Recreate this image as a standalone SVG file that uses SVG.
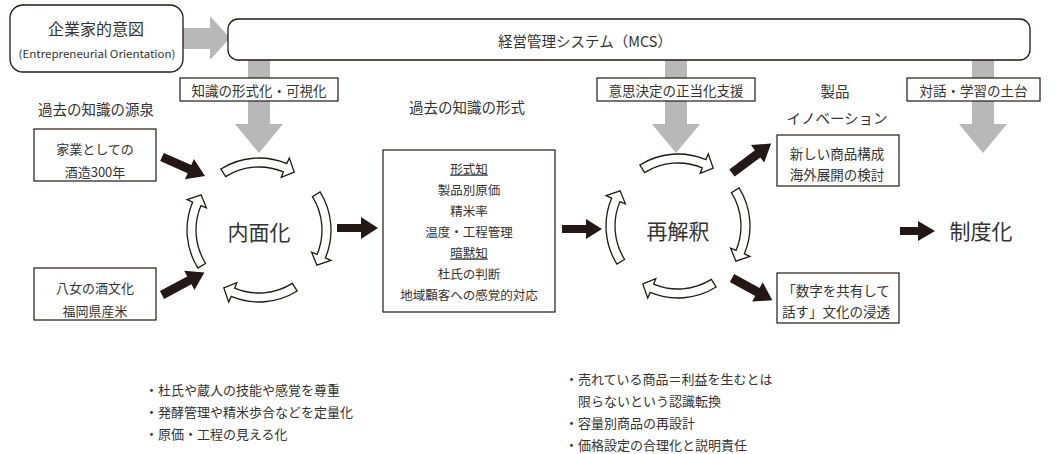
<svg xmlns="http://www.w3.org/2000/svg" xmlns:xlink="http://www.w3.org/1999/xlink" width="1057" height="454" viewBox="0 0 1057 454">
<style>
text{font-family:"Noto Sans CJK JP","Noto Sans",sans-serif;fill:#333;dominant-baseline:central;text-anchor:middle}
.box{fill:#fff;stroke:#231815;stroke-width:1.2}
.rbox{fill:#fff;stroke:#231815;stroke-width:1.3}
.gray{fill:#b8b8b8}
.blk{fill:#231815}
.hollow{fill:#fff;stroke:#231815;stroke-width:1.3;stroke-linejoin:miter}
.lbl{font-size:13.5px}
.head{font-size:14.5px}
.in{font-size:13px}
.mid{font-size:12.5px}
.big{font-size:21px}
.bul{font-size:13px;text-anchor:start}
</style>
<defs>
<path id="curv" d="M -38.15,-61.06 A 72 72 0 0 1 27.8,-66.4 L 30.3,-71.9 L 35.2,-57.9 L 22.2,-52.6 L 24.3,-58.1 A 63 63 0 0 0 -33.38,-53.42 Z"/>
</defs>
<rect width="1057" height="454" fill="#fff"/>

<g id="connectors">
  <path class="gray" d="M182,28 H210 V16 L230,38 L210,60 V49 H182 Z"/>
  <path class="gray" d="M248,59 H270 V124 H283 L259,153 L235,124 H248 Z"/>
  <path class="gray" d="M665,59 H687 V124 H700 L676,153 L652,124 H665 Z"/>
  <path class="gray" d="M972,59 H994 V124 H1007 L983,153 L959,124 H972 Z"/>
  <path class="blk" transform="translate(162,157) rotate(23.8)" d="M0,-4.5 H30 V-11 L47,0 L30,11 V4.5 H0 Z"/>
  <path class="blk" transform="translate(162,295) rotate(-28.1)" d="M0,-4.5 H31 V-11 L48,0 L31,11 V4.5 H0 Z"/>
  <path class="blk" d="M337,224 H361 V217 L378,228 L361,239 V232 H337 Z"/>
  <path class="blk" d="M562,225 H586 V219 L602,229 L586,239 V233 H562 Z"/>
  <path class="blk" transform="translate(732,173) rotate(-36.9)" d="M0,-4.5 H32 V-11 L49,0 L32,11 V4.5 H0 Z"/>
  <path class="blk" transform="translate(732,278) rotate(28.8)" d="M0,-4.5 H29 V-11 L46,0 L29,11 V4.5 H0 Z"/>
  <path class="blk" d="M900,227 H918 V221 L935,231 L918,241 V235 H900 Z"/>
</g>

<g id="eo">
  <rect class="rbox" x="10" y="5" width="173" height="67" rx="13"/>
  <text x="96" y="28" style="font-size:16px">企業家的意図</text>
  <text x="97" y="53" style="font-size:10.5px" textLength="157" lengthAdjust="spacingAndGlyphs">(Entrepreneurial Orientation)</text>
</g>

<g id="mcs">
  <rect class="rbox" x="228" y="19" width="802" height="41" rx="10"/>
  <text x="585" y="40" style="font-size:14.5px">経営管理システム（MCS）</text>
</g>

<g id="label-formalize">
  <rect class="box" x="180" y="78" width="158" height="23"/>
  <text class="lbl" x="259" y="89.5">知識の形式化・可視化</text>
</g>
<g id="label-justify">
  <rect class="box" x="597" y="78" width="158" height="23"/>
  <text class="lbl" x="676" y="89.5">意思決定の正当化支援</text>
</g>
<g id="label-dialog">
  <rect class="box" x="907" y="78" width="133" height="23"/>
  <text class="lbl" x="973.5" y="89.5">対話・学習の土台</text>
</g>

<g id="heading-source"><text class="head" x="96" y="108">過去の知識の源泉</text></g>
<g id="heading-form"><text class="head" x="467" y="106">過去の知識の形式</text></g>
<g id="heading-innovation">
  <text class="head" x="835" y="90">製品</text>
  <text class="head" x="837" y="117">イノベーション</text>
</g>

<g id="src-family">
  <rect class="box" x="34" y="129" width="122" height="52"/>
  <text class="in" x="95" y="148">家業としての</text>
  <text class="in" x="95" y="171">酒造300年</text>
</g>
<g id="src-yame">
  <rect class="box" x="34" y="268" width="122" height="52"/>
  <text class="in" x="95" y="287">八女の酒文化</text>
  <text class="in" x="95" y="310">福岡県産米</text>
</g>

<g id="cycle-internalize">
  <use xlink:href="#curv" class="hollow" transform="translate(259,230)"/>
  <use xlink:href="#curv" class="hollow" transform="translate(259,230) rotate(90)"/>
  <use xlink:href="#curv" class="hollow" transform="translate(259,230) rotate(180)"/>
  <use xlink:href="#curv" class="hollow" transform="translate(259,230) rotate(270)"/>
  <text class="big" x="259" y="231">内面化</text>
</g>

<g id="knowledge-form">
  <rect class="box" x="383" y="150" width="172" height="162"/>
  <text class="mid" x="469" y="168" text-decoration="underline">形式知</text>
  <text class="mid" x="469" y="189">製品別原価</text>
  <text class="mid" x="469" y="210">精米率</text>
  <text class="mid" x="469" y="231">温度・工程管理</text>
  <text class="mid" x="469" y="252" text-decoration="underline">暗黙知</text>
  <text class="mid" x="469" y="273">杜氏の判断</text>
  <text class="mid" x="469" y="294">地域顧客への感覚的対応</text>
</g>

<g id="cycle-reinterpret">
  <use xlink:href="#curv" class="hollow" transform="translate(678,226)"/>
  <use xlink:href="#curv" class="hollow" transform="translate(678,226) rotate(90)"/>
  <use xlink:href="#curv" class="hollow" transform="translate(678,226) rotate(180)"/>
  <use xlink:href="#curv" class="hollow" transform="translate(678,226) rotate(270)"/>
  <text class="big" x="678" y="230">再解釈</text>
</g>

<g id="innov-products">
  <rect class="box" x="777" y="135" width="122" height="51"/>
  <text class="in" x="837" y="153" style="font-size:13.5px">新しい商品構成</text>
  <text class="in" x="837" y="174" style="font-size:13.5px">海外展開の検討</text>
</g>
<g id="innov-culture">
  <rect class="box" x="777" y="273" width="122" height="50"/>
  <text class="in" x="836" y="290" style="font-size:13.5px">「数字を共有して</text>
  <text class="in" x="836" y="311" style="font-size:13.5px">話す」文化の浸透</text>
</g>

<g id="institutionalize"><text class="big" x="981" y="230">制度化</text></g>

<g id="notes-internalize">
  <text class="bul" x="145" y="389">・杜氏や蔵人の技能や感覚を尊重</text>
  <text class="bul" x="145" y="411">・発酵管理や精米歩合などを定量化</text>
  <text class="bul" x="145" y="433">・原価・工程の見える化</text>
</g>
<g id="notes-reinterpret">
  <text class="bul" x="565" y="378">・売れている商品＝利益を生むとは</text>
  <text class="bul" x="578" y="400">限らないという認識転換</text>
  <text class="bul" x="565" y="422">・容量別商品の再設計</text>
  <text class="bul" x="565" y="444">・価格設定の合理化と説明責任</text>
</g>
</svg>
